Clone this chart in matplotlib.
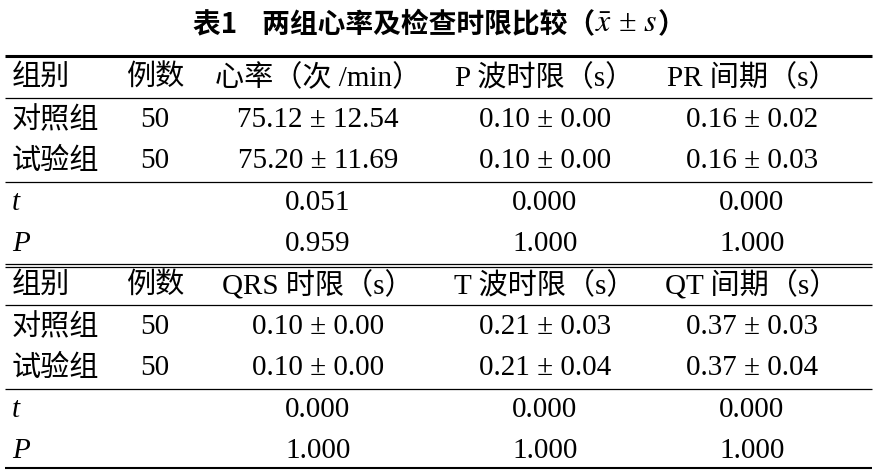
import matplotlib
matplotlib.use("Agg")
import matplotlib.pyplot as plt

plt.rcParams['font.family'] = ['Liberation Serif', 'Noto Sans CJK SC']
plt.rcParams['mathtext.fontset'] = 'stix'

header1 = ["组别", "例数", "心率（次 /min）", "P 波时限（s）", "PR 间期（s）"]
rows1 = [["对照组", "50", "75.12 ± 12.54", "0.10 ± 0.00", "0.16 ± 0.02"],
         ["试验组", "50", "75.20 ± 11.69", "0.10 ± 0.00", "0.16 ± 0.03"]]
stats1 = [["t", "", "0.051", "0.000", "0.000"],
          ["P", "", "0.959", "1.000", "1.000"]]
header2 = ["组别", "例数", "QRS 时限（s）", "T 波时限（s）", "QT 间期（s）"]
rows2 = [["对照组", "50", "0.10 ± 0.00", "0.21 ± 0.03", "0.37 ± 0.03"],
         ["试验组", "50", "0.10 ± 0.00", "0.21 ± 0.04", "0.37 ± 0.04"]]
stats2 = [["t", "", "0.000", "0.000", "0.000"],
          ["P", "", "1.000", "1.000", "1.000"]]

W, H = 878, 470
fig = plt.figure(figsize=(W/100, H/100), dpi=100)
ax = fig.add_axes([0, 0, 1, 1])
ax.set_xlim(0, W); ax.set_ylim(H, 0); ax.axis('off')

fs = 21
# title in pieces
r = fig.canvas.get_renderer()
parts = [("表1    两组心率及检查时限比较（", dict(family=['Noto Sans CJK SC'], fontweight='bold', fontsize=20)),
         ("$\\bar{x}$ ± $s$", dict(fontsize=23)),
         ("）", dict(family=['Noto Sans CJK SC'], fontweight='bold', fontsize=20))]
texts = []
x = 0
for s, kw in parts:
    t = ax.text(x, 25, s, ha='left', va='center', **kw)
    texts.append(t)
widths = []
for t in texts:
    bb = t.get_window_extent(r)
    widths.append(bb.width)
total = sum(widths)
x0 = 439 - total / 2
for t, w in zip(texts, widths):
    t.set_x(x0)
    x0 += w

colx = [155, 318, 545, 752]
def row(vals, y, italic_first=False):
    ax.text(12, y, vals[0], ha='left', va='center', fontsize=fs,
            style='italic' if italic_first else 'normal')
    for x, v in zip(colx, vals[1:]):
        if v:
            ax.text(x, y, v, ha='center', va='center', fontsize=fs)

ys = [78, 120, 161, 203, 244, 286, 327, 368, 410, 451]
all_rows = [(header1, False)] + [(r_, False) for r_ in rows1] + [(r_, True) for r_ in stats1] + \
           [(header2, False)] + [(r_, False) for r_ in rows2] + [(r_, True) for r_ in stats2]
for (rw, it), y in zip(all_rows, ys):
    row(rw, y, it)

L, R = 5, 872
def hl(y, lw):
    ax.plot([L, R], [y, y], color='black', lw=lw, solid_capstyle='butt')
hl(56, 2.2)
hl(98, 0.9)
hl(182, 0.9)
hl(263.5, 0.9); hl(266.5, 0.9)
hl(305, 0.9)
hl(389, 0.9)
hl(468, 1.5)

fig.savefig("out.png", dpi=100)
